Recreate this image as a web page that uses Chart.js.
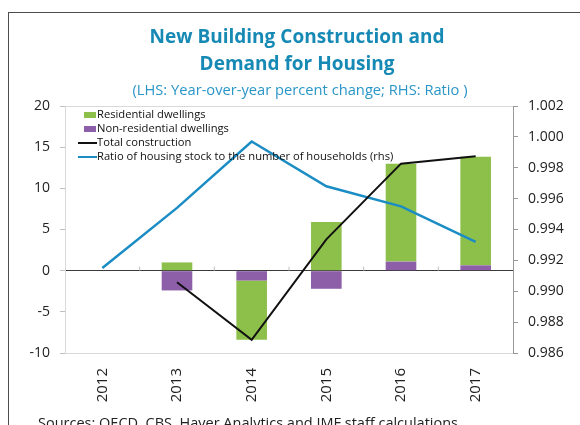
<!DOCTYPE html>
<html lang="en">
<head>
    <meta charset="UTF-8">
    <title>New Building Construction and Demand for Housing</title>
    <script src="https://cdn.jsdelivr.net/npm/chart.js@4.4.1/dist/chart.umd.min.js"></script>
    <style>
        body { margin: 0; background: #fff; overflow: hidden; }
        #frame { position: absolute; left: 8px; top: 12px; width: 600px; height: 430px;
                 border-left: 1.5px solid #4d4d4d; border-top: 1.5px solid #4d4d4d; }
        #box { position: absolute; left: 0; top: 0; width: 580px; height: 425px; }
        #sources { position: absolute; left: 38px; top: 416px; font: 14.5px "Open Sans", sans-serif; line-height: 1; color: #222; white-space: nowrap; }
    </style>
</head>
<body>
    <div id="frame"></div>
    <div id="box"><canvas id="graph1"></canvas></div>
    <div id="sources">Sources: OECD, CBS, Haver Analytics and IMF staff calculations.</div>
    <script>
        // data
        const years = ["2012", "2013", "2014", "2015", "2016", "2017"];
        const residential = [null, 1.0, -7.2, 5.9, 11.9, 13.2];
        const nonResidential = [null, -2.4, -1.2, -2.2, 1.1, 0.65];
        const totalConstruction = [null, -1.4, -8.4, 3.8, 13.0, 13.9];
        const housingRatio = [0.9915, 0.9954, 0.9997, 0.9968, 0.9955, 0.9932];
        const titleLines = ["New Building Construction and", "Demand for Housing"];
        const subtitle = "(LHS: Year-over-year percent change; RHS: Ratio )";

        const font = "'Open Sans', sans-serif";

        const header = {
            id: "header",
            afterDraw(chart) {
                const ctx = chart.ctx;
                ctx.save();
                ctx.textAlign = "center";
                ctx.textBaseline = "middle";
                ctx.fillStyle = "#1689b5";
                ctx.font = "bold 19px " + font;
                ctx.fillText(titleLines[0], 297, 38);
                ctx.fillText(titleLines[1], 297, 65);
                ctx.fillStyle = "#2a96c8";
                ctx.font = "14.7px " + font;
                ctx.fillText(subtitle, 300, 91);
                ctx.restore();
            }
        };

        const legendBox = {
            id: "legendBox",
            afterDraw(chart) {
                const ctx = chart.ctx;
                ctx.save();
                ctx.font = "11.2px " + font;
                ctx.textBaseline = "middle";
                chart.data.datasets.forEach(function (ds, i) {
                    const y = 115 + i * 14;
                    if (ds.type == "bar") {
                        ctx.fillStyle = ds.backgroundColor;
                        ctx.fillRect(84, y - 3, 12, 6);
                    } else {
                        ctx.strokeStyle = ds.borderColor;
                        ctx.lineWidth = 2;
                        ctx.beginPath();
                        ctx.moveTo(78, y);
                        ctx.lineTo(97, y);
                        ctx.stroke();
                    }
                    ctx.fillStyle = "#111";
                    ctx.fillText(ds.label, 97, y);
                });
                ctx.restore();
            }
        };

        const zeroTicks = {
            id: "zeroTicks",
            beforeDatasetsDraw(chart) {
                const ctx = chart.ctx;
                const xs = chart.scales.x;
                const y0 = chart.scales.y.getPixelForValue(0);
                ctx.save();
                ctx.strokeStyle = "#bfbfbf";
                ctx.lineWidth = 1;
                for (let i = 1; i < years.length; i++) {
                    const x = (xs.getPixelForValue(i - 1) + xs.getPixelForValue(i)) / 2;
                    ctx.beginPath();
                    ctx.moveTo(x, y0 - 4);
                    ctx.lineTo(x, y0);
                    ctx.stroke();
                }
                ctx.restore();
            }
        };

        const graph1 = new Chart("graph1", {
            data: {
                labels: years,
                datasets: [{
                    type: "bar",
                    label: "Residential dwellings",
                    data: residential,
                    backgroundColor: "#8dc04a",
                    stack: "construction",
                    yAxisID: "y",
                    order: 2,
                    barPercentage: 0.41,
                    categoryPercentage: 1
                }, {
                    type: "bar",
                    label: "Non-residential dwellings",
                    data: nonResidential,
                    backgroundColor: "#8c5fa8",
                    stack: "construction",
                    yAxisID: "y",
                    order: 1,
                    barPercentage: 0.41,
                    categoryPercentage: 1
                }, {
                    type: "line",
                    label: "Total construction",
                    data: totalConstruction,
                    borderColor: "#111",
                    backgroundColor: "#111",
                    borderWidth: 2,
                    pointRadius: 0,
                    tension: 0,
                    fill: false,
                    stack: "total",
                    yAxisID: "y",
                    order: 0
                }, {
                    type: "line",
                    label: "Ratio of housing stock to the number of households (rhs)",
                    data: housingRatio,
                    borderColor: "#1b8dc4",
                    backgroundColor: "#1b8dc4",
                    borderWidth: 2.5,
                    pointRadius: 0,
                    tension: 0,
                    fill: false,
                    yAxisID: "y1",
                    order: 0
                }]
            },
            options: {
                responsive: true,
                maintainAspectRatio: false,
                animation: false,
                layout: { padding: { top: 106, left: 0, right: 0, bottom: 0 } },
                plugins: {
                    legend: { display: false },
                    title: { display: false },
                    tooltip: { enabled: false }
                },
                scales: {
                    x: {
                        offset: true,
                        grid: { display: false },
                        border: { color: "#d9d9d9" },
                        ticks: {
                            minRotation: 90, maxRotation: 90, autoSkip: false, padding: 7,
                            color: "#222", font: { family: font, size: 15 }
                        },
                        afterFit(scale) { scale.height = 72; }
                    },
                    y: {
                        position: "left",
                        stacked: true,
                        min: -10, max: 20,
                        ticks: { stepSize: 5, padding: 10, color: "#222", font: { family: font, size: 14 } },
                        grid: {
                            color: function (c) {
                                if (c.tick.value === 0) return "#3a3a3a";
                                if (c.tick.value === 20) return "#d9d9d9";
                                return "rgba(0,0,0,0)";
                            },
                            tickColor: "#bfbfbf",
                            tickLength: 5
                        },
                        border: { color: "#d9d9d9" },
                        afterFit(scale) { scale.width = 65; }
                    },
                    y1: {
                        position: "right",
                        min: 0.986, max: 1.002,
                        ticks: {
                            stepSize: 0.002, padding: 10, color: "#222", font: { family: font, size: 14 },
                            callback: function (v) { return v.toFixed(3); }
                        },
                        grid: { drawOnChartArea: false, tickColor: "#999", tickLength: 5 },
                        border: { color: "#999" },
                        afterFit(scale) { scale.width = 67; }
                    }
                }
            },
            plugins: [header, legendBox, zeroTicks]
        });
    </script>
</body>
</html>
